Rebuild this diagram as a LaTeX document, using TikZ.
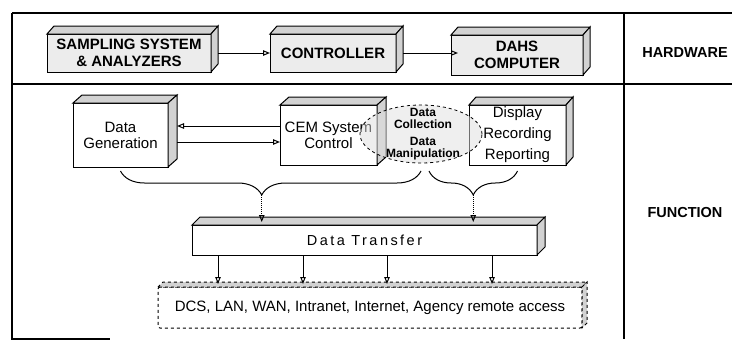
\documentclass[tikz,border=0pt]{standalone}
\usepackage{fontspec}
\setmainfont{Liberation Sans}
\usepackage{tikz}
\usetikzlibrary{arrows.meta,calc,decorations.pathreplacing,shapes.geometric}

\newcommand{\slab}[4][]{%
  \filldraw[fill=gray!35,line width=1pt,#1] (#2.north west) -- ++(#3,#4) -- ($(#2.north east)+(#3,#4)$) -- (#2.north east) -- cycle;
  \filldraw[fill=gray!35,line width=1pt,#1] (#2.north east) -- ($(#2.north east)+(#3,#4)$) -- ($(#2.south east)+(#3,#4)$) -- (#2.south east) -- cycle;}

\tikzset{
  box/.style={draw, line width=1pt, inner sep=0pt, outer sep=0pt, align=center},
  hwbox/.style={box, fill=gray!15, font=\bfseries\fontsize{15}{17.5}\selectfont},
  fnbox/.style={box, fill=white, font=\fontsize{15}{16}\selectfont},
  arr/.style={-{Triangle[open,length=7pt,width=5.5pt]}, line width=1pt},
  dotarr/.style={arr, densely dotted},
  curly/.style={decorate, decoration={brace, mirror, amplitude=24pt}, line width=1pt},
  side/.style={font=\bfseries\fontsize{14.5}{17}\selectfont}
}

\begin{document}
\begin{tikzpicture}[x=1pt,y=-1pt]
\useasboundingbox (0,0) rectangle (732,340);
\draw[line width=1.1pt] (12,13) -- (732,13) (12,84) -- (732,84) (12,13) -- (12,339) -- (110,339) (624,13) -- (624,339);

\node[hwbox, minimum width=164pt, minimum height=38pt] (samp) at (129,53) {SAMPLING SYSTEM\\\& ANALYZERS};
\slab{samp}{7}{-8}
\node[hwbox, minimum width=126pt, minimum height=38pt] (ctrl) at (333,53) {CONTROLLER};
\slab{ctrl}{7}{-8}
\node[hwbox, minimum width=132pt, minimum height=40pt] (dahs) at (517,55) {DAHS\\COMPUTER};
\slab{dahs}{7}{-8}
\draw[arr] ([xshift=7pt]samp.east) -- (ctrl.west);
\draw[arr] ([xshift=7pt]ctrl.east) -- ([xshift=7pt]ctrl.east -| dahs.west);
\node[side] (hw) at (685,53) {HARDWARE};

\node[fnbox, minimum width=95pt, minimum height=64pt] (gen) at (120.5,135) {Data\\Generation};
\slab{gen}{9}{-8}
\node[fnbox, minimum width=97pt, minimum height=60pt] (cem) at (328.5,135) {CEM System\\Control};
\slab{cem}{9}{-8}
\node[fnbox, minimum width=97pt, minimum height=60pt, font=\fontsize{15}{21}\selectfont] (disp) at (517.5,135) {Display\\Recording\\Reporting};
\slab{disp}{7}{-8}
\node[ellipse, draw, dashed, line width=0.8pt, fill=gray!25, fill opacity=0.5, minimum width=122pt, minimum height=58pt, inner sep=0pt] (coll) at (421,134) {};
\node[align=center, inner sep=0pt, font=\bfseries\fontsize{12}{12}\selectfont] (colltxt) at ([xshift=2pt]coll.center) {Data\\Collection\\[5pt]Data\\Manipulation};

\draw[arr] ([yshift=9pt]cem.west) -- ([xshift=9pt,yshift=9pt]gen.east);
\draw[arr] ([xshift=9pt,yshift=-7pt]gen.east) -- ([yshift=-7pt]cem.west);

\coordinate (b1) at ([yshift=-4pt]gen.south);
\coordinate (b2) at (coll.south |- b1);
\coordinate (b3) at ([xshift=8pt]b2);
\coordinate (b4) at (disp.south |- b1);
\draw[curly, decoration={aspect=0.47}] (b1) -- (b2);
\draw[curly] (b3) -- (b4);
\coordinate (t1) at ($(b1)!0.47!(b2)+(0,24)$);
\coordinate (t2) at ($(b3)!0.5!(b4)+(0,24)$);

\node[fnbox, minimum width=345pt, minimum height=30pt, font=\fontsize{14.5}{16}\selectfont\addfontfeature{LetterSpace=17}] (xfer) at (364.5,240) {Data Transfer};
\slab{xfer}{8}{-8}
\draw[dotarr] (t1) -- ($(t1 |- xfer.north)+(0,-3)$);
\draw[dotarr] (t2) -- ($(t2 |- xfer.north)+(0,-3)$);

\node[fnbox, dashed, rounded corners=2pt, minimum width=424pt, minimum height=41pt] (net) at (370,307.5) {DCS, LAN, WAN, Intranet, Internet, Agency remote access};
\slab[dashed]{net}{5}{-5}
\foreach \x in {218,303,387,492}
  \draw[arr] (\x,0 |- xfer.south) -- ($(\x,0 |- net.north)+(0,-3)$);

\node[side] (fn) at (685,213) {FUNCTION};
\end{tikzpicture}
\end{document}
